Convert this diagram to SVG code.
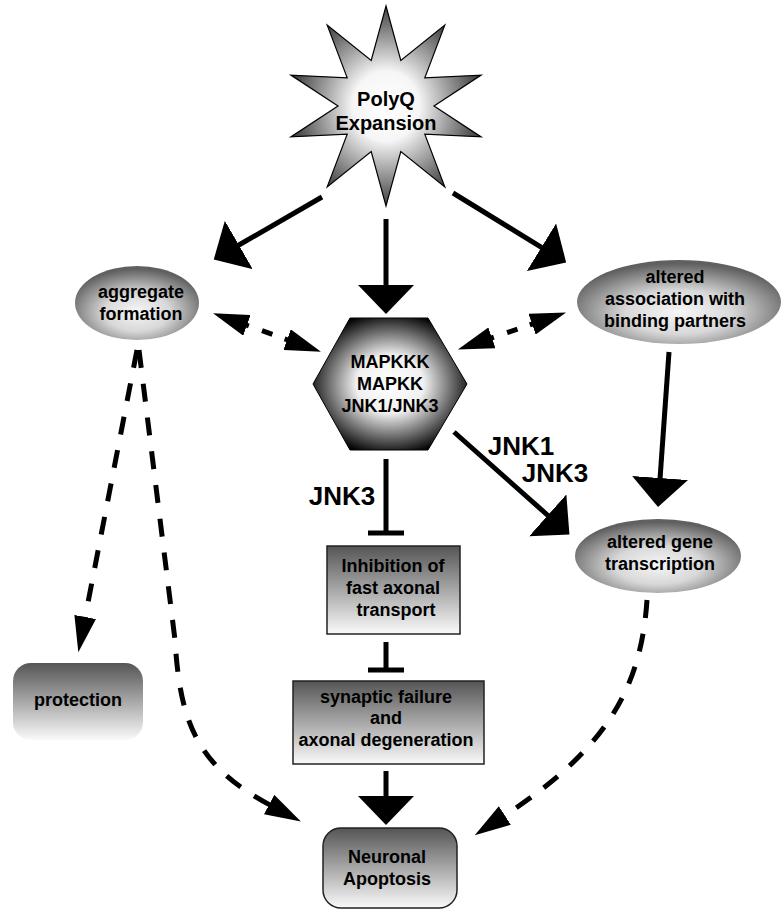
<svg xmlns="http://www.w3.org/2000/svg" width="781" height="911" viewBox="0 0 781 911">
<defs>
<style>
text{font-family:"Liberation Sans",Arial,Helvetica,sans-serif;font-weight:bold;fill:#000;text-anchor:middle}
.t18{font-size:18px}
.t20{font-size:20px}
.lbl{font-size:26px}
.solid{fill:none;stroke:#000;stroke-width:5}
.dash{fill:none;stroke:#000;stroke-width:5;stroke-dasharray:18 16}
</style>
<radialGradient id="gStar" cx="50%" cy="50%" r="50%">
<stop offset="0" stop-color="#ffffff"/>
<stop offset="0.35" stop-color="#f6f6f6"/>
<stop offset="1" stop-color="#404040"/>
</radialGradient>
<radialGradient id="gEll" cx="50%" cy="62%" r="58%">
<stop offset="0" stop-color="#f6f6f6"/>
<stop offset="0.45" stop-color="#d8d8d8"/>
<stop offset="1" stop-color="#606060"/>
</radialGradient>
<radialGradient id="gHex" cx="50%" cy="50%" r="55%">
<stop offset="0" stop-color="#ffffff"/>
<stop offset="0.4" stop-color="#f0f0f0"/>
<stop offset="1" stop-color="#000000"/>
</radialGradient>
<linearGradient id="gBox" x1="0" y1="0" x2="0" y2="1">
<stop offset="0" stop-color="#555555"/>
<stop offset="1" stop-color="#fafafa"/>
</linearGradient>
<marker id="ah" markerUnits="userSpaceOnUse" viewBox="0 0 30 56" markerWidth="30" markerHeight="56" refX="1" refY="28" orient="auto">
<path d="M0,0 L29,28 L0,56 z" fill="#000"/>
</marker>
<marker id="dh" markerUnits="userSpaceOnUse" viewBox="0 0 37 22" markerWidth="37" markerHeight="22" refX="1" refY="11" orient="auto-start-reverse">
<path d="M0,0 L36,11 L0,22 z" fill="#000"/>
</marker>
<marker id="tee" markerUnits="userSpaceOnUse" viewBox="-3 -18 6 36" markerWidth="6" markerHeight="36" refX="0" refY="0" orient="auto">
<rect x="-2.5" y="-18" width="5" height="36" fill="#000"/>
</marker>
</defs>
<rect width="781" height="911" fill="#fff"/>

<g id="connectors">
<line class="solid" x1="322" y1="197" x2="238" y2="245.5" marker-end="url(#ah)"/>
<line class="solid" x1="386" y1="219" x2="386" y2="286" marker-end="url(#ah)"/>
<line class="solid" x1="453" y1="193" x2="542.3" y2="247.8" marker-end="url(#ah)"/>
<line class="solid" x1="669" y1="352" x2="660" y2="479" marker-end="url(#ah)"/>
<line class="solid" x1="454" y1="432" x2="548.5" y2="516" marker-end="url(#ah)"/>
<line class="solid" x1="386" y1="771" x2="386" y2="797" marker-end="url(#ah)"/>
<line class="solid" x1="386" y1="459" x2="386" y2="533" marker-end="url(#tee)"/>
<line class="solid" x1="386" y1="642" x2="386" y2="670" marker-end="url(#tee)"/>
<line class="dash" x1="246" y1="325" x2="288" y2="340" style="stroke-dasharray:3 14 11 13 6" marker-start="url(#dh)" marker-end="url(#dh)"/>
<line class="dash" x1="491" y1="338.2" x2="533" y2="323.8" style="stroke-dasharray:3 14 11 13 6" marker-start="url(#dh)" marker-end="url(#dh)"/>
<line class="dash" x1="137" y1="350" x2="85" y2="618" marker-end="url(#dh)"/>
<path class="dash" d="M139,350 L175,640 C180,720 195,765 270,805" marker-end="url(#dh)"/>
<path class="dash" d="M647,600 C641,690 605,750 504,816" marker-end="url(#dh)"/>
</g>

<g id="polyq">
<polygon points="386,6 400.8,60.4 444.8,25.1 424.8,77.8 481.1,75.1 434,106 481.1,136.9 424.8,134.2 444.8,186.9 400.8,151.6 386,206 371.2,151.6 327.2,186.9 347.2,134.2 290.9,136.9 338,106 290.9,75.1 347.2,77.8 327.2,25.1 371.2,60.4" fill="url(#gStar)" stroke="#000" stroke-width="1.2"/>
<text class="t20" x="386" y="106">PolyQ</text>
<text class="t20" x="386" y="130">Expansion</text>
</g>

<g id="aggregate">
<ellipse cx="137" cy="303" rx="62" ry="37" fill="url(#gEll)"/>
<text class="t18" x="141" y="298">aggregate</text>
<text class="t18" x="141" y="320">formation</text>
</g>

<g id="mapk">
<polygon points="350,318 428,318 467,384 428,450 350,450 313,384" fill="url(#gHex)" stroke="#000" stroke-width="1"/>
<text class="t18" x="390" y="368">MAPKKK</text>
<text class="t18" x="390" y="390">MAPKK</text>
<text class="t18" x="390" y="412">JNK1/JNK3</text>
</g>

<g id="association">
<ellipse cx="679" cy="302" rx="102" ry="42" fill="url(#gEll)"/>
<text class="t18" x="675" y="283">altered</text>
<text class="t18" x="675" y="305">association with</text>
<text class="t18" x="675" y="327">binding partners</text>
</g>

<g id="labels">
<text class="lbl" x="342" y="505">JNK3</text>
<text class="lbl" x="521" y="455">JNK1</text>
<text class="lbl" x="555" y="482">JNK3</text>
</g>

<g id="transcription">
<ellipse cx="658" cy="556" rx="83" ry="37" fill="url(#gEll)"/>
<text class="t18" x="660" y="548">altered gene</text>
<text class="t18" x="660" y="570">transcription</text>
</g>

<g id="inhibition">
<rect x="327" y="546" width="133" height="88" fill="url(#gBox)" stroke="#222" stroke-width="1.5"/>
<text class="t18" x="393" y="572">Inhibition of</text>
<text class="t18" x="393" y="594">fast axonal</text>
<text class="t18" x="396" y="616">transport</text>
</g>

<g id="synaptic">
<rect x="293" y="681" width="191" height="83" fill="url(#gBox)" stroke="#222" stroke-width="1.5"/>
<text class="t18" x="386" y="703">synaptic failure</text>
<text class="t18" x="386" y="724">and</text>
<text class="t18" x="386" y="746">axonal degeneration</text>
</g>

<g id="protection">
<rect x="13" y="663" width="130" height="77" rx="18" ry="18" fill="url(#gBox)"/>
<text class="t18" x="78" y="706">protection</text>
</g>

<g id="apoptosis">
<rect x="323" y="828" width="134" height="80" rx="18" ry="18" fill="url(#gBox)" stroke="#222" stroke-width="1.5"/>
<text class="t18" x="387" y="863">Neuronal</text>
<text class="t18" x="387" y="885">Apoptosis</text>
</g>
</svg>
